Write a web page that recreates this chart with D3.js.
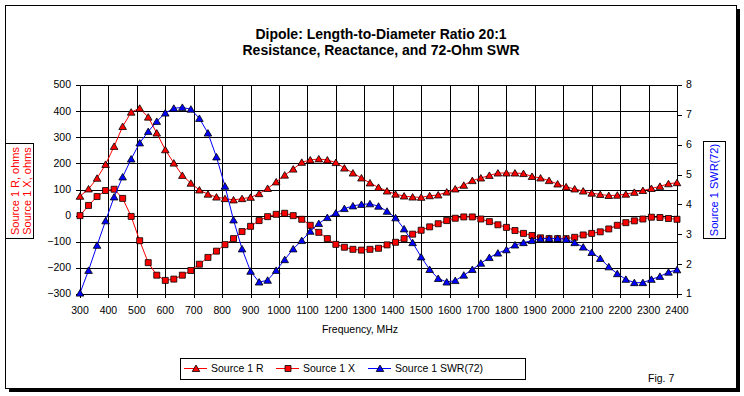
<!DOCTYPE html>
<html>
<head>
<meta charset="utf-8">
<script src="https://cdn.jsdelivr.net/npm/d3@7"></script>
<style>
  html, body { margin: 0; padding: 0; background: #fff; }
  svg { display: block; font-family: Arial, "Liberation Sans", sans-serif; }
</style>
</head>
<body>
<div id="chart"></div>
<script>
// sample frequencies, MHz (30 MHz steps)
const freqs = [
  300, 330, 360, 390, 420, 450, 480, 510, 540, 570, 600, 630, 660, 690, 720,
  750, 780, 810, 840, 870, 900, 930, 960, 990, 1020, 1050, 1080, 1110, 1140, 1170,
  1200, 1230, 1260, 1290, 1320, 1350, 1380, 1410, 1440, 1470, 1500, 1530, 1560, 1590, 1620,
  1650, 1680, 1710, 1740, 1770, 1800, 1830, 1860, 1890, 1920, 1950, 1980, 2010, 2040, 2070,
  2100, 2130, 2160, 2190, 2220, 2250, 2280, 2310, 2340, 2370, 2400
];

// Source 1 R, ohms
const resistance = [
  74, 102, 143, 196, 265, 341, 396, 411, 377, 316, 252, 201, 154, 124, 98,
  82, 71, 65, 60, 65, 70, 84, 104, 129, 155, 178, 204, 213, 217, 213,
  203, 182, 163, 144, 125, 108, 94, 82, 75, 71, 70, 76, 79, 90, 102,
  116, 134, 144, 154, 163, 163, 163, 161, 150, 144, 134, 121, 110, 102, 94,
  86, 81, 77, 78, 82, 89, 96, 104, 112, 122, 126
];

// Source 1 X, ohms
const reactance = [
  0, 39, 73, 96, 101, 66, -3, -96, -180, -228, -248, -243, -228, -210, -186,
  -160, -136, -111, -88, -61, -41, -19, -4, 5, 9, 0, -14, -37, -64, -88,
  -110, -121, -129, -132, -129, -125, -112, -102, -88, -71, -56, -43, -31, -19, -10,
  -5, -5, -13, -23, -35, -45, -57, -68, -76, -85, -88, -88, -88, -83, -74,
  -68, -62, -51, -37, -27, -20, -13, -6, -7, -11, -14
];

// Source 1 SWR(72)
const swr = [
  1.03, 1.79, 2.63, 3.45, 4.25, 4.92, 5.52, 6.06, 6.44, 6.78, 7.06, 7.22, 7.25, 7.19, 6.88,
  6.39, 5.59, 4.61, 3.48, 2.51, 1.76, 1.40, 1.46, 1.79, 2.15, 2.51, 2.79, 3.10, 3.36, 3.56,
  3.71, 3.86, 3.95, 4.00, 4.02, 3.94, 3.77, 3.55, 3.18, 2.72, 2.24, 1.82, 1.52, 1.40, 1.45,
  1.63, 1.82, 2.03, 2.22, 2.37, 2.48, 2.64, 2.72, 2.79, 2.85, 2.86, 2.86, 2.83, 2.72, 2.57,
  2.39, 2.19, 1.91, 1.68, 1.49, 1.38, 1.38, 1.49, 1.59, 1.73, 1.81
];

const freqTicks = [300, 400, 500, 600, 700, 800, 900, 1000, 1100, 1200, 1300, 1400,
  1500, 1600, 1700, 1800, 1900, 2000, 2100, 2200, 2300, 2400];
const ohmTicks = [-300, -200, -100, 0, 100, 200, 300, 400, 500];
const swrTicks = [1, 2, 3, 4, 5, 6, 7, 8];

const titleLines = ['Dipole: Length-to-Diameter Ratio 20:1', 'Resistance, Reactance, and 72-Ohm SWR'];

const RED = '#ff0000';
const BLUE = '#0000ff';

const width = 744;
const height = 396;
const plot = { left: 80, right: 677, top: 85, bottom: 294 };

const x = d3.scaleLinear()
  .domain([300, 2400])
  .range([plot.left, plot.right]);
const yOhm = d3.scaleLinear()
  .domain([-300, 500])
  .range([plot.bottom, plot.top]);
const ySwr = d3.scaleLinear()
  .domain([1, 8])
  .range([plot.bottom, plot.top]);

const crisp = v => Math.round(v) + 0.5;

const trianglePath = 'M0,-3.5L3.8,3L-3.8,3Z';
const squarePath = 'M-3,-3H3V3H-3Z';

const series = [
  { label: 'Source 1 R', values: resistance, y: yOhm, color: RED, marker: trianglePath },
  { label: 'Source 1 X', values: reactance, y: yOhm, color: RED, marker: squarePath },
  { label: 'Source 1 SWR(72)', values: swr, y: ySwr, color: BLUE, marker: trianglePath }
];

const svg = d3.select('#chart')
  .append('svg')
  .attr('width', width)
  .attr('height', height);

svg.append('rect')
  .attr('width', width)
  .attr('height', height)
  .attr('fill', '#fff');

// frame with drop shadow
svg.append('rect')
  .attr('x', 9).attr('y', 9)
  .attr('width', 731).attr('height', 383)
  .attr('fill', '#000');
svg.append('rect')
  .attr('x', 5.5).attr('y', 5.5)
  .attr('width', 731).attr('height', 383)
  .attr('fill', '#fff')
  .attr('stroke', '#000');

// title
svg.append('g')
  .selectAll('text')
  .data(titleLines)
  .enter().append('text')
    .attr('x', 381)
    .attr('y', (d, i) => 39 + i * 16)
    .attr('text-anchor', 'middle')
    .style('font-size', '14px')
    .style('font-weight', 'bold')
    .text(d => d);

// grid
const grid = svg.append('g')
  .attr('stroke', '#000')
  .attr('stroke-width', 1);

grid.selectAll('.hgrid')
  .data(ohmTicks)
  .enter().append('line')
    .attr('class', 'hgrid')
    .attr('x1', crisp(plot.left))
    .attr('x2', crisp(plot.right))
    .attr('y1', d => crisp(yOhm(d)))
    .attr('y2', d => crisp(yOhm(d)));

grid.selectAll('.vgrid')
  .data(freqTicks)
  .enter().append('line')
    .attr('class', 'vgrid')
    .attr('x1', d => crisp(x(d)))
    .attr('x2', d => crisp(x(d)))
    .attr('y1', crisp(plot.top))
    .attr('y2', crisp(plot.bottom));

// axes: labels from the generators, tick marks snapped to whole pixels
const tickFont = '10.5px';

const leftAxis = svg.append('g')
  .attr('transform', `translate(${crisp(plot.left) - 0.5},0)`)
  .call(d3.axisLeft(yOhm).tickValues(ohmTicks).tickSize(4).tickSizeOuter(0).tickPadding(5)
    .offset(0));
leftAxis.selectAll('line')
  .attr('y1', d => crisp(yOhm(d)) - yOhm(d)).attr('y2', d => crisp(yOhm(d)) - yOhm(d));

const rightAxis = svg.append('g')
  .attr('transform', `translate(${crisp(plot.right) + 0.5},0)`)
  .call(d3.axisRight(ySwr).tickValues(swrTicks).tickSize(4).tickSizeOuter(0).tickPadding(4)
    .tickFormat(d3.format('d')).offset(0));
rightAxis.selectAll('line')
  .attr('y1', d => crisp(ySwr(d)) - ySwr(d)).attr('y2', d => crisp(ySwr(d)) - ySwr(d));

const bottomAxis = svg.append('g')
  .attr('transform', `translate(0,${crisp(plot.bottom) - 0.5})`)
  .call(d3.axisBottom(x).tickValues(freqTicks).tickSize(4).tickSizeOuter(0).tickPadding(9)
    .tickFormat(d3.format('d')).offset(0));
bottomAxis.selectAll('line')
  .attr('x1', d => crisp(x(d)) - x(d)).attr('x2', d => crisp(x(d)) - x(d));

[leftAxis, rightAxis, bottomAxis].forEach(ax => {
  ax.select('.domain').remove();
  ax.selectAll('line').attr('stroke', '#000');
  ax.selectAll('text')
    .attr('fill', '#000')
    .style('font-size', tickFont)
    .style('font-family', 'Arial, "Liberation Sans", sans-serif');
});

// series lines and markers
const seriesG = svg.selectAll('.series')
  .data(series)
  .enter().append('g')
    .attr('class', 'series');

seriesG.append('path')
  .attr('fill', 'none')
  .attr('stroke', d => d.color)
  .attr('stroke-width', 1)
  .attr('d', s => d3.line()
    .x((v, i) => x(freqs[i]))
    .y(v => s.y(v))(s.values));

seriesG.each(function(s) {
  d3.select(this).selectAll('.marker')
    .data(s.values)
    .enter().append('path')
      .attr('class', 'marker')
      .attr('transform', (v, i) => `translate(${x(freqs[i])},${s.y(v)})`)
      .attr('d', s.marker)
      .attr('fill', s.color)
      .attr('stroke', '#000')
      .attr('stroke-width', 0.8);
});

// axis titles
svg.append('text')
  .attr('x', 360)
  .attr('y', 333)
  .attr('text-anchor', 'middle')
  .style('font-size', '10.5px')
  .text('Frequency, MHz');

svg.append('rect')
  .attr('x', 5.5).attr('y', 143.5)
  .attr('width', 28).attr('height', 95)
  .attr('fill', '#fff')
  .attr('stroke', '#000');

svg.append('g')
  .selectAll('text')
  .data(['Source 1 R, ohms', 'Source 1 X, ohms'])
  .enter().append('text')
    .attr('transform', (d, i) => `translate(${15.5 + i * 12},191) rotate(-90)`)
    .attr('text-anchor', 'middle')
    .attr('dy', '0.35em')
    .attr('fill', RED)
    .style('font-size', '11px')
    .text(d => d);

svg.append('rect')
  .attr('x', 703.5).attr('y', 141.5)
  .attr('width', 22).attr('height', 97)
  .attr('fill', '#fff')
  .attr('stroke', '#000');

svg.append('text')
  .attr('transform', 'translate(714.5,190) rotate(-90)')
  .attr('text-anchor', 'middle')
  .attr('dy', '0.35em')
  .attr('fill', BLUE)
  .style('font-size', '11px')
  .text('Source 1 SWR(72)');

// legend
const legend = svg.append('g');
legend.append('rect')
  .attr('x', 180.5).attr('y', 358.5)
  .attr('width', 345).attr('height', 21)
  .attr('fill', '#fff')
  .attr('stroke', '#000');

const legendX = [184, 276, 368];
const item = legend.selectAll('.item')
  .data(series)
  .enter().append('g')
    .attr('class', 'item')
    .attr('transform', (d, i) => `translate(${legendX[i]},368.5)`);

item.append('line')
  .attr('x1', 0).attr('x2', 23)
  .attr('stroke', d => d.color);
item.append('path')
  .attr('transform', 'translate(12,0)')
  .attr('d', d => d.marker)
  .attr('fill', d => d.color)
  .attr('stroke', '#000')
  .attr('stroke-width', 0.8);
item.append('text')
  .attr('x', 27)
  .attr('dy', '0.36em')
  .style('font-size', '10.5px')
  .text(d => d.label);

svg.append('text')
  .attr('x', 648)
  .attr('y', 382)
  .style('font-size', '10.5px')
  .text('Fig. 7');
</script>
</body>
</html>
